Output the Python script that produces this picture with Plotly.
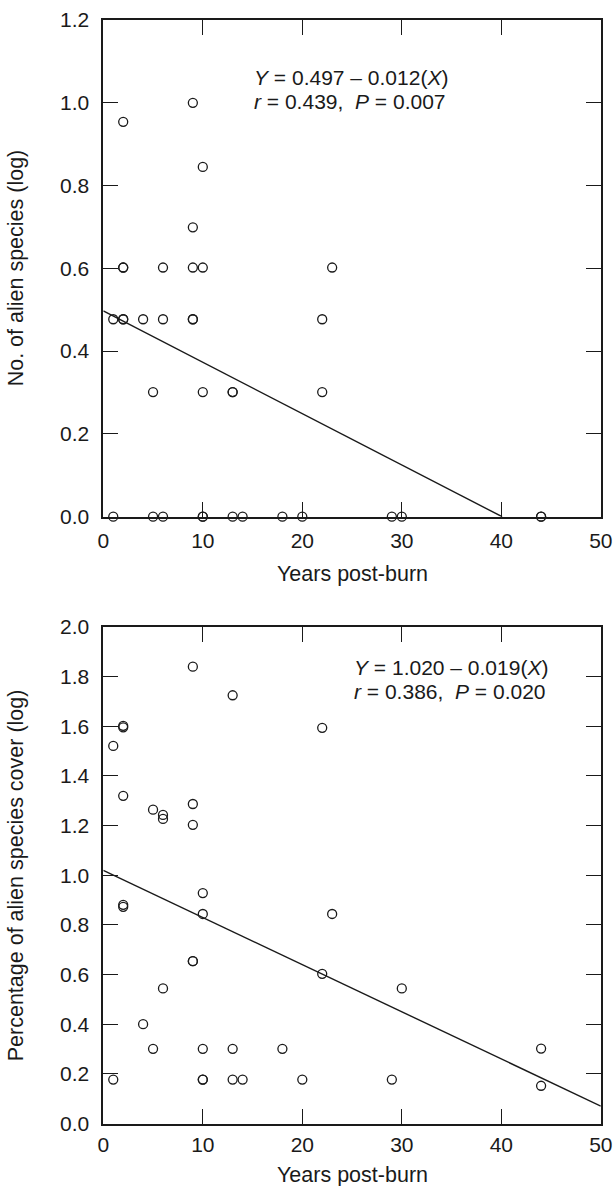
import plotly.graph_objects as go

W, H = 613, 1186

# ---------------- data ----------------
years_top = [1, 1, 2, 2, 2, 2, 2, 4, 5, 5, 6, 6, 6, 9, 9, 9, 9, 9, 10, 10, 10, 10, 10,
             13, 13, 13, 14, 18, 20, 22, 22, 23, 29, 30, 44, 44]
alien_species_log = [0.477, 0.0, 0.954, 0.602, 0.602, 0.477, 0.477, 0.477, 0.301, 0.0,
                     0.602, 0.477, 0.0, 1.0, 0.699, 0.602, 0.477, 0.477, 0.845, 0.602,
                     0.301, 0.0, 0.0, 0.301, 0.301, 0.0, 0.0, 0.0, 0.0, 0.477, 0.301,
                     0.602, 0.0, 0.0, 0.0, 0.0]

years_bottom = [1, 1, 2, 2, 2, 2, 2, 4, 5, 5, 6, 6, 6, 9, 9, 9, 9, 9, 10, 10, 10, 10, 10,
                13, 13, 13, 14, 18, 20, 22, 22, 23, 29, 30, 44, 44]
alien_cover_log = [1.521, 0.177, 1.602, 1.596, 1.320, 0.881, 0.873, 0.400, 1.264, 0.301,
                   1.243, 1.227, 0.544, 1.840, 1.287, 1.203, 0.654, 0.654, 0.928, 0.844,
                   0.301, 0.177, 0.177, 1.725, 0.301, 0.177, 0.177, 0.301, 0.177, 1.594,
                   0.603, 0.844, 0.177, 0.544, 0.302, 0.152]

# regression lines (intercept, slope as drawn)
top_intercept, top_slope = 0.497, -0.0124
bot_intercept, bot_slope = 1.020, -0.0190

top_eq = ["<i>Y</i> = 0.497 – 0.012(<i>X</i>)", "<i>r</i> = 0.439,  <i>P</i> = 0.007"]
bot_eq = ["<i>Y</i> = 1.020 – 0.019(<i>X</i>)", "<i>r</i> = 0.386,  <i>P</i> = 0.020"]

x_ticks = [0, 10, 20, 30, 40, 50]
y_ticks_top = [0.0, 0.2, 0.4, 0.6, 0.8, 1.0, 1.2]
y_ticks_bot = [0.0, 0.2, 0.4, 0.6, 0.8, 1.0, 1.2, 1.4, 1.6, 1.8, 2.0]

x_title = "Years post-burn"
y_title_top = "No. of alien species (log)"
y_title_bot = "Percentage of alien species cover (log)"

# ---------------- layout geometry (pixels) ----------------
FONT = "Liberation Sans, Arial, sans-serif"
INK = "#1a1a1a"
px_x = lambda p: p / W
px_y = lambda p: 1 - p / H

left, right = 103.3, 600.8
top1, bot1 = 20.0, 516.7
top2, bot2 = 627.0, 1123.5

top_x_end = -top_intercept / top_slope
line_top_x = [0, top_x_end]
line_top_y = [top_intercept + top_slope * v for v in line_top_x]
line_bot_x = [0, 50]
line_bot_y = [bot_intercept + bot_slope * v for v in line_bot_x]

marker = dict(symbol="circle-open", size=9, color=INK, line=dict(width=1.3, color=INK))

fig = go.Figure()
fig.add_trace(go.Scatter(x=years_top, y=alien_species_log, mode="markers", marker=marker,
                         xaxis="x", yaxis="y", cliponaxis=False, showlegend=False))
fig.add_trace(go.Scatter(x=line_top_x, y=line_top_y, mode="lines",
                         line=dict(color=INK, width=1.4),
                         xaxis="x", yaxis="y", showlegend=False))
fig.add_trace(go.Scatter(x=years_bottom, y=alien_cover_log, mode="markers", marker=marker,
                         xaxis="x2", yaxis="y2", cliponaxis=False, showlegend=False))
fig.add_trace(go.Scatter(x=line_bot_x, y=line_bot_y, mode="lines",
                         line=dict(color=INK, width=1.4),
                         xaxis="x2", yaxis="y2", showlegend=False))

axis_common = dict(showgrid=False, zeroline=False, showline=True, linecolor=INK, linewidth=1.8,
                   mirror="ticks", ticks="inside", ticklen=15, tickwidth=1.4, tickcolor=INK,
                   tickfont=dict(family=FONT, size=21, color=INK), automargin=False)

fig.update_layout(
    width=W, height=H,
    margin=dict(l=0, r=0, t=0, b=0),
    paper_bgcolor="white", plot_bgcolor="white",
    xaxis=dict(domain=[px_x(left), px_x(right)], range=[0, 50], tickvals=x_ticks,
               anchor="y", ticklabelstandoff=4, **axis_common),
    yaxis=dict(domain=[px_y(bot1), px_y(top1)], range=[0, 1.2], tickvals=y_ticks_top,
               tickformat=".1f", anchor="x", ticklabelstandoff=8, **axis_common),
    xaxis2=dict(domain=[px_x(left), px_x(right)], range=[0, 50], tickvals=x_ticks,
                anchor="y2", ticklabelstandoff=1, **axis_common),
    yaxis2=dict(domain=[px_y(bot2), px_y(top2)], range=[0, 2.0], tickvals=y_ticks_bot,
                tickformat=".1f", anchor="x2", ticklabelstandoff=8, **axis_common),
)

txt = dict(family=FONT, size=21.5, color=INK)
eq_font = dict(family=FONT, size=21, color=INK)
pitch = 24.4
ann = []
# equations (one annotation per line, stacked tightly as in the reference)
top_mid, bot_mid = 89.4, 679.4
for i, line in enumerate(top_eq):
    ann.append(dict(text=line, xref="paper", yref="paper", x=px_x(253),
                    y=px_y(top_mid + (i - 0.5) * pitch), borderpad=0,
                    xanchor="left", yanchor="middle", showarrow=False, font=eq_font, align="left"))
for i, line in enumerate(bot_eq):
    ann.append(dict(text=line, xref="paper", yref="paper", x=px_x(353),
                    y=px_y(bot_mid + (i - 0.5) * pitch), borderpad=0,
                    xanchor="left", yanchor="middle", showarrow=False, font=eq_font, align="left"))
# axis titles
cx = (left + right) / 2
ann.append(dict(text=x_title, xref="paper", yref="paper", x=px_x(cx), y=px_y(574),
                xanchor="center", yanchor="middle", showarrow=False, font=txt))
ann.append(dict(text=x_title, xref="paper", yref="paper", x=px_x(cx), y=px_y(1175),
                xanchor="center", yanchor="middle", showarrow=False, font=txt))
ann.append(dict(text=y_title_top, xref="paper", yref="paper", x=px_x(16), y=px_y((top1 + bot1) / 2),
                xanchor="center", yanchor="middle", textangle=-90, showarrow=False, font=txt))
ann.append(dict(text=y_title_bot, xref="paper", yref="paper", x=px_x(16), y=px_y((top2 + bot2) / 2),
                xanchor="center", yanchor="middle", textangle=-90, showarrow=False, font=txt))
fig.update_layout(annotations=ann)

fig.write_html("out.html", config={"displayModeBar": False})

# remove the browser's default body margin so the figure fills the window exactly
with open("out.html", "r", encoding="utf-8") as f:
    html = f.read()
html = html.replace("<head>", "<head><style>html,body{margin:0;padding:0;overflow:hidden;}</style>", 1)
with open("out.html", "w", encoding="utf-8") as f:
    f.write(html)
